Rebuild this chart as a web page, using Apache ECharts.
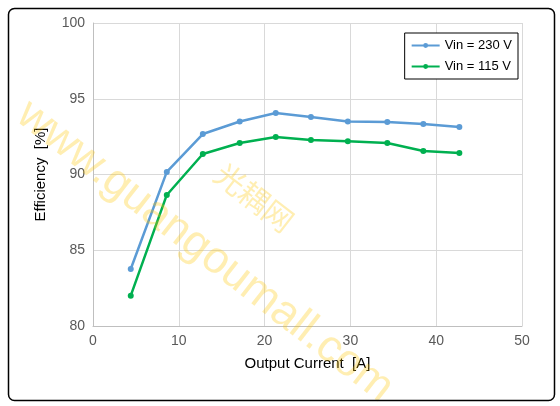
<!DOCTYPE html>
<html><head><meta charset="utf-8">
<script src="https://cdn.jsdelivr.net/npm/echarts@6/dist/echarts.min.js"></script>
<style>html,body{margin:0;padding:0;background:#fff}#c{width:560px;height:406px}</style>
</head><body><div id="c"></div>
<script>
const xValues=[4.4,8.6,12.8,17.1,21.3,25.4,29.7,34.3,38.5,42.7];
const vin230=[83.76,90.17,92.67,93.5,94.06,93.8,93.5,93.47,93.33,93.13];
const vin115=[82.0,88.65,91.35,92.08,92.47,92.28,92.2,92.08,91.55,91.42];
const names=['Vin = 230 V','Vin = 115 V'];
const chart=echarts.init(document.getElementById('c'));
const font='"Liberation Sans", Arial, sans-serif';
chart.setOption({
  animation:false,
  grid:{left:93,right:38,top:23,bottom:80},
  legend:{orient:'vertical',right:42,top:33,itemWidth:28,itemHeight:6,itemGap:8,
    backgroundColor:'#fff',borderColor:'#000',borderWidth:1,padding:[6,6,6,6],
    textStyle:{fontFamily:font,fontSize:13,color:'#000'},data:names},
  xAxis:{type:'value',min:0,max:50,interval:10,name:'Output Current  [A]',nameLocation:'middle',nameGap:30,
    nameTextStyle:{fontFamily:font,fontSize:15,color:'#000'},
    axisLine:{lineStyle:{color:'#bfbfbf'}},axisTick:{show:false},
    axisLabel:{fontFamily:font,fontSize:14,color:'#595959'},
    splitLine:{lineStyle:{color:'#d9d9d9'}}},
  yAxis:{type:'value',min:80,max:100,interval:5,name:'Efficiency  [%]',nameLocation:'middle',nameGap:45,
    nameTextStyle:{fontFamily:font,fontSize:15,color:'#000'},
    axisLine:{show:true,lineStyle:{color:'#bfbfbf'}},axisTick:{show:false},
    axisLabel:{fontFamily:font,fontSize:14,color:'#595959'},
    splitLine:{lineStyle:{color:'#d9d9d9'}}},
  graphic:[
    {type:'rect',left:6,top:6,shape:{width:546,height:392,r:6},style:{fill:'none',stroke:'#000',lineWidth:1.5},z:100},
    {type:'text',x:36,y:92,rotation:-0.66,style:{text:'www.guangoumall.com',font:'45px "Liberation Sans"',fill:'rgba(255,200,0,0.3)'},z:50},
    {type:'text',x:228,y:158,rotation:-0.66,style:{text:'光耦网',font:'30px "Noto Sans CJK SC"',fill:'rgba(255,200,0,0.3)'},z:50}
  ],
  series:[
    {name:names[0],type:'line',data:xValues.map((x,i)=>[x,vin230[i]]),symbol:'circle',symbolSize:6,
      itemStyle:{color:'#5b9bd5'},lineStyle:{width:2.5,color:'#5b9bd5'}},
    {name:names[1],type:'line',data:xValues.map((x,i)=>[x,vin115[i]]),symbol:'circle',symbolSize:6,
      itemStyle:{color:'#00b050'},lineStyle:{width:2.5,color:'#00b050'}}
  ]
});
</script></body></html>
